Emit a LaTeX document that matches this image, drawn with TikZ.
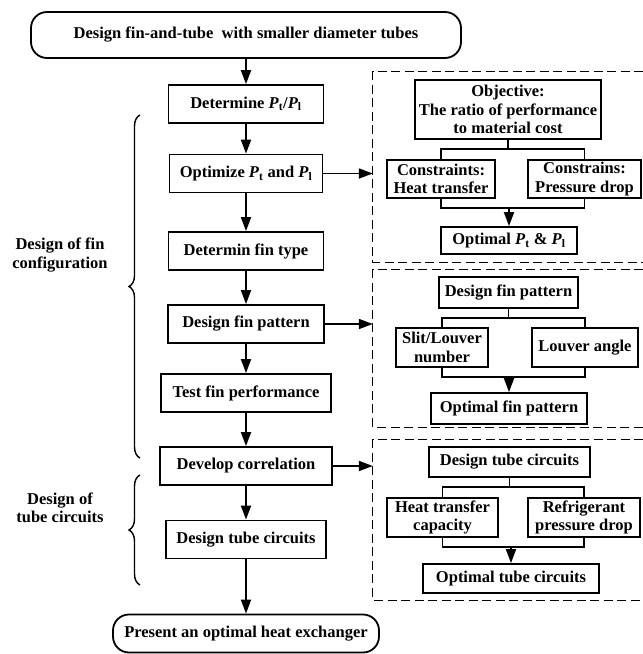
\documentclass[tikz,border=0pt]{standalone}
\usepackage{fontspec}
\setmainfont{Liberation Serif}
\usetikzlibrary{arrows.meta,decorations.pathreplacing}
\newcommand{\pitch}[1]{\textit{P}\textsubscript{#1}}
\begin{document}
\begin{tikzpicture}[x=1pt, y=-1pt,
                    every node/.style = {align=center, font=\fontsize{16.5}{18.5}\selectfont\bfseries},
                    box/.style = {draw, line width=1.8pt, minimum height=38, inner sep=2pt},
                    ends/.style = {box, rounded corners=16pt},
                    sub/.style = {draw, line width=1.8pt, inner sep=2pt},
                    panel/.style = {draw=none, inner sep=0pt, minimum width=270},
                    frame/.style = {dash pattern=on 9pt off 4.5pt, line width=1.3pt},
                    arr/.style = {-{Triangle[length=14pt,width=10pt]}, line width=1.8pt},
                    link/.style = {line width=1.8pt},
                    brc/.style = {decorate, decoration={brace, amplitude=11pt}, line width=1.4pt}]
\useasboundingbox (0,0) rectangle (643,654);
\node[ends, minimum width=430, minimum height=46] (start) at (246,35) {Design fin-and-tube\ \ with smaller diameter tubes};
\node[box, minimum width=155] (pratio) at (246,104) {Determine \pitch{t}/\pitch{l}};
\node[box, minimum width=153] (popt) at (246,173.5) {Optimize \pitch{t} and \pitch{l}};
\node[box, minimum width=155] (ftype) at (246,251) {Determin fin type};
\node[box, minimum width=156] (fpat) at (246,324) {Design fin pattern};
\node[box, minimum width=170] (ftest) at (246,393) {Test fin performance};
\node[box, minimum width=172] (corr) at (246,466) {Develop correlation};
\node[box, minimum width=160] (tube) at (246,539.5) {Design tube circuits};
\node[ends, minimum width=266] (final) at (246,633.5) {Present an optimal heat exchanger};
\foreach \a/\b in {start/pratio, pratio/popt, popt/ftype, ftype/fpat, fpat/ftest, ftest/corr, corr/tube, tube/final}
    \draw[arr] (\a) -- (\b);

\node[panel, minimum height=190] (pan1) at (508,167) {};
\node[panel, minimum height=157] (pan2) at (508,348.5) {};
\node[panel, minimum height=160] (pan3) at (508,520) {};
\foreach \p in {pan1, pan2, pan3}
    \draw[frame] (\p.north east) -| (\p.south west) -- (\p.south east);
\draw[arr] (popt.east) -- (popt.east -| pan1.west);
\draw[arr] (fpat.east) -- (fpat.east -| pan2.west);
\draw[arr] (corr.east) -- (corr.east -| pan3.west);

\node[sub, minimum width=186, minimum height=59] (obj) at (508,109.5) {Objective:\\The ratio of performance\\to material cost};
\node[sub, minimum width=108, minimum height=38] (ht) at (441,179) {Constraints:\\Heat transfer};
\node[sub, minimum width=113, minimum height=38] (pd) at (584.5,179) {Constrains:\\Pressure drop};
\node[sub, minimum width=136, minimum height=27] (optp) at (509,240.5) {Optimal \pitch{t} \& \pitch{l}};

\node[sub, minimum width=139, minimum height=31] (dfp) at (508.5,292.5) {Design fin pattern};
\node[sub, minimum width=92, minimum height=39] (slit) at (442,347.5) {Slit/Louver\\number};
\node[sub, minimum width=106, minimum height=39] (lang) at (585,347.5) {Louver angle};
\node[sub, minimum width=156, minimum height=31] (optf) at (509,408.5) {Optimal fin pattern};

\node[sub, minimum width=161, minimum height=30] (dtc) at (509.5,462) {Design tube circuits};
\node[sub, minimum width=111, minimum height=39] (htc) at (442.5,517.5) {Heat transfer\\capacity};
\node[sub, minimum width=112, minimum height=39] (rpd) at (584,517.5) {Refrigerant\\pressure drop};
\node[sub, minimum width=176, minimum height=29] (optt) at (511,578.5) {Optimal tube circuits};

\foreach \t/\l/\r/\o in {obj/ht/pd/optp, dfp/slit/lang/optf, dtc/htc/rpd/optt} {
    \draw[link] (\t.south) -- ++(0,9) coordinate (fork) (\l.north) |- (fork) -| (\r.north);
    \draw[link] (\l.south) -- ++(0,9) coordinate (join) -| (\r.south);
    \draw[arr] (join -| \o.north) -- (\o.north);
}

\coordinate (b1top) at (140,115);
\coordinate (b1bot) at (140,458);
\coordinate (b2top) at (140,475);
\coordinate (b2bot) at (140,585);
\draw[brc] (b1bot) -- (b1top);
\draw[brc] (b2bot) -- (b2top);
\node (fincfg) at (60,255) {Design of fin\\configuration};
\node (tubecfg) at (60,508) {Design of\\tube circuits};
\end{tikzpicture}
\end{document}
